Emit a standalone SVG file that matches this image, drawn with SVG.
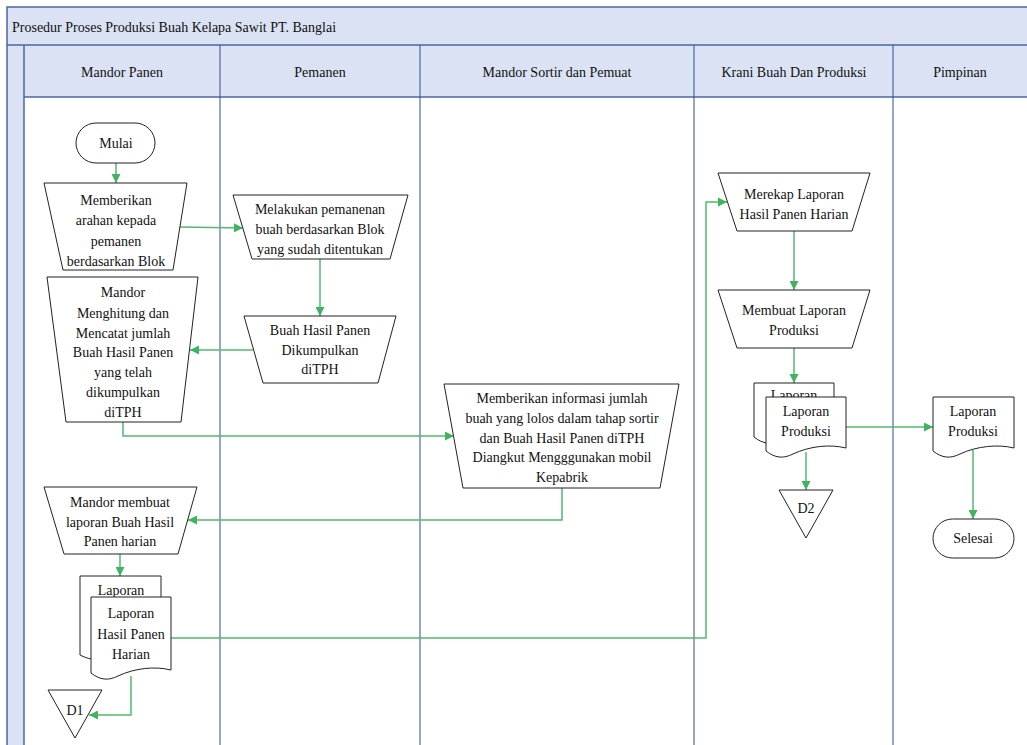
<svg xmlns="http://www.w3.org/2000/svg" width="1027" height="745" viewBox="0 0 1027 745">
<style>
text{font-family:"Liberation Serif","Times New Roman",serif;font-size:14px;fill:#111;}
.c{text-anchor:middle;}
.hdr{fill:#dae2f3;stroke:#4a67a3;stroke-width:1.5;}
.lane{stroke:#2f4f8f;stroke-width:1;fill:none;}
.shape{fill:#fff;stroke:#222;stroke-width:1;}
.con{fill:none;stroke:#52b96e;stroke-width:1.5;}
</style>
<defs>
<marker id="ah" viewBox="0 0 10 10" refX="10" refY="5" markerWidth="9" markerHeight="9" markerUnits="userSpaceOnUse" orient="auto">
<path d="M0,0 L10,5 L0,10 z" fill="#3fb45f"/>
</marker>
</defs>
<rect width="1027" height="745" fill="#fff"/>
<g id="pool">
<rect class="hdr" x="7" y="7" width="1030" height="760"/>
<rect x="24" y="97" width="1010" height="660" fill="#fff"/>
<line class="hdr" x1="7" y1="45" x2="1030" y2="45"/>
<line class="hdr" x1="24" y1="97" x2="1030" y2="97"/>
<line class="hdr" x1="24" y1="45" x2="24" y2="750"/>
<text x="12" y="32">Prosedur Proses Produksi Buah Kelapa Sawit PT. Banglai</text>
</g>
<g id="lanes">
<line class="lane" x1="220" y1="45" x2="220" y2="745"/>
<line class="lane" x1="420" y1="45" x2="420" y2="745"/>
<line class="lane" x1="694" y1="45" x2="694" y2="745"/>
<line class="lane" x1="893" y1="45" x2="893" y2="745"/>
<text class="c" x="122" y="77">Mandor Panen</text>
<text class="c" x="320" y="77">Pemanen</text>
<text class="c" x="557" y="77">Mandor Sortir dan Pemuat</text>
<text class="c" x="794" y="77">Krani Buah Dan Produksi</text>
<text class="c" x="960" y="77">Pimpinan</text>
</g>
<g id="connectors">
<path class="con" d="M116,163 V183" marker-end="url(#ah)"/>
<path class="con" d="M180,227 L243,228" marker-end="url(#ah)"/>
<path class="con" d="M320,259 V316" marker-end="url(#ah)"/>
<path class="con" d="M253,350 H190" marker-end="url(#ah)"/>
<path class="con" d="M123,422 V436 H454" marker-end="url(#ah)"/>
<path class="con" d="M562,488 V520 H188" marker-end="url(#ah)"/>
<path class="con" d="M120,554 V576" marker-end="url(#ah)"/>
<path class="con" d="M171,638 H706 V202 H727" marker-end="url(#ah)"/>
<path class="con" d="M131,676 V715 H89" marker-end="url(#ah)"/>
<path class="con" d="M794,231 V290" marker-end="url(#ah)"/>
<path class="con" d="M794,348 V383" marker-end="url(#ah)"/>
<path class="con" d="M806,452 V490" marker-end="url(#ah)"/>
<path class="con" d="M846,427 H933" marker-end="url(#ah)"/>
<path class="con" d="M973,450 V519" marker-end="url(#ah)"/>
</g>
<g id="mulai">
<rect class="shape" x="76" y="123" width="79" height="40" rx="20"/>
<text class="c" x="116" y="148">Mulai</text>
</g>
<g id="memberikan-arahan">
<path class="shape" d="M44,183 H187 L173,270 H63 Z"/>
<text class="c" x="116" y="205">Memberikan</text>
<text class="c" x="116" y="225">arahan kepada</text>
<text class="c" x="116" y="246">pemanen</text>
<text class="c" x="116" y="266">berdasarkan Blok</text>
</g>
<g id="melakukan-pemanenan">
<path class="shape" d="M233,195 H408 L390,259 H252 Z"/>
<text class="c" x="320" y="214">Melakukan pemanenan</text>
<text class="c" x="320" y="234">buah berdasarkan Blok</text>
<text class="c" x="320" y="254">yang sudah ditentukan</text>
</g>
<g id="buah-dikumpulkan">
<path class="shape" d="M244,316 H396 L378,383 H263 Z"/>
<text class="c" x="320" y="335">Buah Hasil Panen</text>
<text class="c" x="320" y="355">Dikumpulkan</text>
<text class="c" x="320" y="374">diTPH</text>
</g>
<g id="mandor-menghitung">
<path class="shape" d="M47,277 H198 L181,422 H66 Z"/>
<text class="c" x="123" y="297">Mandor</text>
<text class="c" x="123" y="318">Menghitung dan</text>
<text class="c" x="123" y="338">Mencatat jumlah</text>
<text class="c" x="123" y="357">Buah Hasil Panen</text>
<text class="c" x="123" y="377">yang telah</text>
<text class="c" x="123" y="397">dikumpulkan</text>
<text class="c" x="123" y="417">diTPH</text>
</g>
<g id="memberikan-informasi">
<path class="shape" d="M444,384 H679 L660,488 H463 Z"/>
<text class="c" x="562" y="403">Memberikan informasi jumlah</text>
<text class="c" x="562" y="423">buah yang lolos dalam tahap sortir</text>
<text class="c" x="562" y="443">dan Buah Hasil Panen  diTPH</text>
<text class="c" x="562" y="462">Diangkut Mengggunakan mobil</text>
<text class="c" x="562" y="482">Kepabrik</text>
</g>
<g id="mandor-membuat">
<path class="shape" d="M44,487 H197 L178,554 H64 Z"/>
<text class="c" x="120" y="507">Mandor membuat</text>
<text class="c" x="120" y="527">laporan Buah Hasil</text>
<text class="c" x="120" y="546">Panen harian</text>
</g>
<g id="laporan-hasil-panen">
<path class="shape" d="M80,576 H161 V649 C145,646 120,650 104,657 C95,661 88,659 80,655 Z"/>
<text class="c" x="121" y="595">Laporan</text>
<path class="shape" d="M91,597 H171 V670 C155,666 135,668 118,676 C108,681 100,680 91,673 Z"/>
<text class="c" x="131" y="618">Laporan</text>
<text class="c" x="131" y="639">Hasil Panen</text>
<text class="c" x="131" y="659">Harian</text>
</g>
<g id="d1">
<path class="shape" d="M48,690 H102 L75,738 Z"/>
<text class="c" x="75" y="715">D1</text>
</g>
<g id="merekap">
<path class="shape" d="M718,173 H870 L852,231 H737 Z"/>
<text class="c" x="794" y="199">Merekap Laporan</text>
<text class="c" x="794" y="219">Hasil Panen Harian</text>
</g>
<g id="membuat-laporan-produksi">
<path class="shape" d="M718,290 H870 L852,348 H737 Z"/>
<text class="c" x="794" y="315">Membuat Laporan</text>
<text class="c" x="794" y="335">Produksi</text>
</g>
<g id="laporan-produksi-krani">
<path class="shape" d="M754,383 H834 V434 C818,430 798,432 781,440 C771,445 763,444 754,437 Z"/>
<text class="c" x="794" y="400">Laporan</text>
<path class="shape" d="M766,397 H846 V448 C830,444 810,446 793,454 C783,459 775,458 766,451 Z"/>
<text class="c" x="806" y="416">Laporan</text>
<text class="c" x="806" y="436">Produksi</text>
</g>
<g id="d2">
<path class="shape" d="M779,490 H833 L806,538 Z"/>
<text class="c" x="806" y="513">D2</text>
</g>
<g id="laporan-produksi-pimpinan">
<path class="shape" d="M933,397 H1014 V448 C998,444 977,446 960,454 C950,459 942,458 933,451 Z"/>
<text class="c" x="973" y="416">Laporan</text>
<text class="c" x="973" y="436">Produksi</text>
</g>
<g id="selesai">
<rect class="shape" x="933" y="519" width="81" height="39" rx="19.5"/>
<text class="c" x="973" y="543">Selesai</text>
</g>
</svg>
